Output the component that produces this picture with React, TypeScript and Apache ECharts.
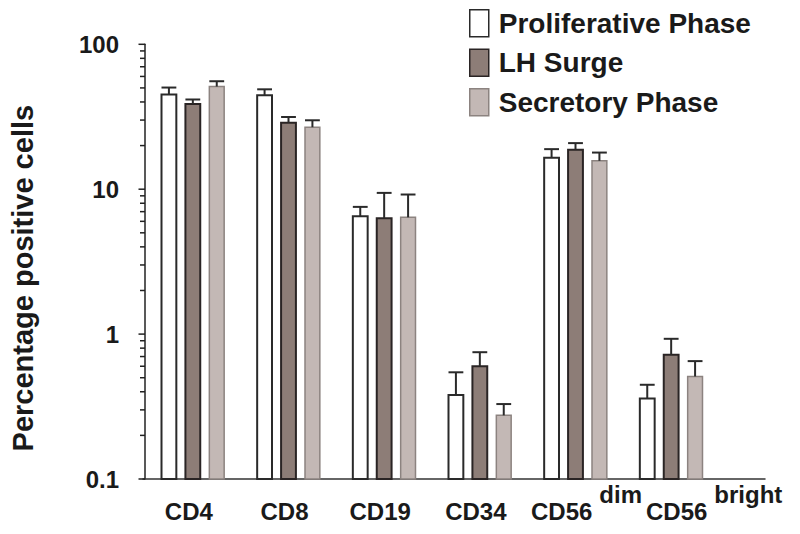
import React, { useEffect, useRef } from "react";
import * as echarts from "echarts";

const categories = ["CD4", "CD8", "CD19", "CD34", "CD56 dim", "CD56 bright"];
const seriesNames = ["Proliferative Phase", "LH Surge", "Secretory Phase"];
// mean values (percentage positive cells)
const proliferativeMean = [45.0, 44.5, 6.5, 0.38, 16.5, 0.36];
const lhSurgeMean = [38.7, 28.7, 6.3, 0.6, 18.7, 0.72];
const secretoryMean = [51.1, 26.8, 6.4, 0.275, 15.7, 0.51];
// upper end of error bars
const proliferativeUpper = [50.3, 48.9, 7.55, 0.545, 18.9, 0.447];
const lhSurgeUpper = [41.6, 31.5, 9.43, 0.75, 20.8, 0.928];
const secretoryUpper = [55.6, 29.9, 9.19, 0.329, 17.9, 0.651];
const yTicks = [0.1, 1, 10, 100];
const yMinorTicks = [
  0.2, 0.3, 0.4, 0.5, 0.6, 0.7, 0.8, 0.9,
  2, 3, 4, 5, 6, 7, 8, 9,
  20, 30, 40, 50, 60, 70, 80, 90,
];

const FONT = "'Liberation Sans', Arial, Helvetica, sans-serif";
const TEXT = "#1a1a1a";

const fills = ["#ffffff", "#8d7d77", "#c3b8b5"];
const strokes = ["#2a2a2a", "#2a2424", "#8c8380"];
const strokeWidths = [2, 2, 1.5];

export default function App() {
  const ref = useRef<HTMLDivElement>(null);
  useEffect(() => {
    if (!ref.current) return;
    const chart = echarts.init(ref.current, null, { renderer: "svg" });
    const means = [proliferativeMean, lhSurgeMean, secretoryMean];
    const uppers = [proliferativeUpper, lhSurgeUpper, secretoryUpper];

    const series: any[] = seriesNames.map((name, sIdx) => ({
      name,
      type: "custom",
      xAxisIndex: 0,
      yAxisIndex: 0,
      encode: { x: 0, y: [1, 2] },
      itemStyle: { color: fills[sIdx], borderColor: strokes[sIdx], borderWidth: strokeWidths[sIdx] },
      data: categories.map((_, i) => [i, means[sIdx][i], uppers[sIdx][i]]),
      renderItem: (params: any, api: any) => {
        const cat = api.value(0);
        const mean = api.value(1);
        const upper = api.value(2);
        const band = api.size([1, 1], [cat, 1])[0];
        const barW = band * 0.155;
        const pitch = band * 0.25;
        const off = (sIdx - 1) * pitch;
        const top = api.coord([cat, mean]);
        const base = api.coord([cat, 0.1]);
        const err = api.coord([cat, upper]);
        const cx = top[0] + off;
        return {
          type: "group",
          children: [
            {
              type: "rect",
              shape: { x: cx - barW / 2, y: top[1], width: barW, height: base[1] - top[1] },
              style: { fill: fills[sIdx], stroke: strokes[sIdx], lineWidth: strokeWidths[sIdx] },
            },
            {
              type: "line",
              shape: { x1: cx, y1: top[1], x2: cx, y2: err[1] },
              style: { stroke: "#2a2a2a", lineWidth: 2 },
            },
            {
              type: "line",
              shape: { x1: cx - barW / 2, y1: err[1], x2: cx + barW / 2, y2: err[1] },
              style: { stroke: "#2a2a2a", lineWidth: 2 },
            },
          ],
        };
      },
    }));

    // outward (leftward) y-axis ticks, drawn through the log scale
    const tickData = [
      ...yTicks.map((v) => [0, v, 1]),
      ...yMinorTicks.map((v) => [0, v, 0]),
    ];
    series.push({
      name: "yticks",
      type: "custom",
      xAxisIndex: 0,
      yAxisIndex: 0,
      silent: true,
      encode: { x: 0, y: 1 },
      data: tickData,
      renderItem: (params: any, api: any) => {
        const v = api.value(1);
        const major = api.value(2) === 1;
        const band = api.size([1, 1], [0, 1])[0];
        const p = api.coord([0, v]);
        const x0 = p[0] - band / 2;
        const len = major ? 6.5 : 5;
        return {
          type: "line",
          shape: { x1: x0 - len, y1: p[1], x2: x0, y2: p[1] },
          style: { stroke: "#222222", lineWidth: 1.5 },
        };
      },
    });

    const catLabelBase = { fontFamily: FONT, fontWeight: "bold", fontSize: 24, color: TEXT };

    const option: any = {
      animation: false,
      backgroundColor: "#ffffff",
      legend: {
        orient: "vertical",
        left: 469,
        top: 9,
        padding: 0,
        itemWidth: 19,
        itemHeight: 27,
        itemGap: 11,
        icon: "rect",
        data: seriesNames.map((n, i) => ({
          name: n,
          itemStyle: { color: fills[i], borderColor: strokes[i], borderWidth: 1.5 },
        })),
        textStyle: { fontFamily: FONT, fontWeight: "bold", fontSize: 28, color: TEXT, padding: [8, 0, 0, 5] },
      },
      grid: [
        { left: 143, right: 81, top: 44.3, bottom: 55, containLabel: false },
        { left: 143, right: 35, top: 44.3, bottom: 55, containLabel: false },
      ],
      xAxis: [
        {
          type: "category",
          gridIndex: 0,
          data: categories,
          axisLine: { show: false, onZero: false },
          axisTick: { show: false },
          splitLine: { show: false },
          axisLabel: {
            interval: 0,
            margin: 3,
            lineHeight: 41,
            formatter: (v: string) => {
              const parts = v.split(" ");
              if (parts.length === 1) return `{b|${parts[0]}}`;
              const key = parts[1] === "dim" ? "bd" : "bb";
              return `{${key}|${parts[0]}}{s|${parts[1]}}`;
            },
            rich: {
              b: { ...catLabelBase, verticalAlign: "bottom", padding: [0, 8, 0, 0] },
              bd: { ...catLabelBase, verticalAlign: "bottom", padding: [0, 0, 0, 22] },
              bb: { ...catLabelBase, verticalAlign: "bottom", padding: [0, 0, 0, 86] },
              s: { ...catLabelBase, verticalAlign: "top", padding: [0, 0, 0, 7] },
            },
          },
        },
        {
          type: "value",
          gridIndex: 1,
          min: 0,
          max: 1,
          axisLine: { show: true, onZero: false, lineStyle: { color: "#333333", width: 1.5 } },
          axisTick: { show: false },
          axisLabel: { show: false },
          splitLine: { show: false },
        },
      ],
      yAxis: [
        {
          type: "log",
          gridIndex: 0,
          position: "left",
          logBase: 10,
          min: 0.1,
          max: 100,
          name: "Percentage positive cells",
          nameLocation: "middle",
          nameGap: 108,
          nameTextStyle: { fontFamily: FONT, fontWeight: "bold", fontSize: 29, color: TEXT, padding: [0, 33, 0, 0] },
          axisLine: { show: true, onZero: false, lineStyle: { color: "#222222", width: 1.5 } },
          axisTick: { show: false },
          axisLabel: {
            margin: 26,
            customValues: yTicks,
            formatter: (v: number) => String(v),
            fontFamily: FONT,
            fontWeight: "bold",
            fontSize: 24,
            color: TEXT,
          },
          splitLine: { show: false },
        },
        {
          type: "value",
          gridIndex: 1,
          show: false,
          min: 0,
          max: 1,
        },
      ],
      series,
    };
    chart.setOption(option);
    return () => chart.dispose();
  }, []);
  return <div ref={ref} style={{ width: 800, height: 534, position: "absolute", left: 0, top: 0 }} />;
}
